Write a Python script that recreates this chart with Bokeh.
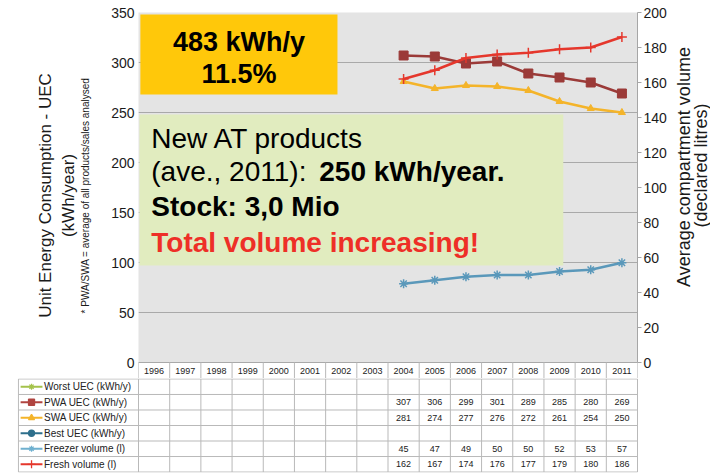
import math
from bokeh.plotting import figure
from bokeh.layouts import column, row
from bokeh.models import Range1d, LinearAxis, FixedTicker, BoxAnnotation, Label
from bokeh.core.properties import value
from bokeh.embed import file_html
from bokeh.resources import INLINE

# ---------------- data ----------------
years = ["1996", "1997", "1998", "1999", "2000", "2001", "2002", "2003",
         "2004", "2005", "2006", "2007", "2008", "2009", "2010", "2011"]
data_years = ["2004", "2005", "2006", "2007", "2008", "2009", "2010", "2011"]
worst_uec = []
pwa_uec = [307, 306, 299, 301, 289, 285, 280, 269]
swa_uec = [281, 274, 277, 276, 272, 261, 254, 250]
best_uec = []
freezer_volume = [45, 47, 49, 50, 50, 52, 53, 57]
fresh_volume = [162, 167, 174, 176, 177, 179, 180, 186]
series_labels = ["Worst UEC (kWh/y)", "PWA UEC (kWh/y)", "SWA UEC (kWh/y)",
                 "Best UEC (kWh/y)", "Freezer volume (l)", "Fresh volume (l)"]
series_values = [worst_uec, pwa_uec, swa_uec, best_uec, freezer_volume, fresh_volume]
uec_ticks = [0, 50, 100, 150, 200, 250, 300, 350]
volume_ticks = [0, 20, 40, 60, 80, 100, 120, 140, 160, 180, 200]
right_title_lines = ["Average compartment  volume", "(declared litres)"]

# ---------------- style ----------------
FONT = "Liberation Sans"
NCAT = len(years)
FRAME_W = 499
LEFT1 = 138
RIGHT1 = 35
TOP1 = 12
PXU = FRAME_W / NCAT
UEC_MAX = uec_ticks[-1]
VOL_MAX = volume_ticks[-1]
RATIO = UEC_MAX / VOL_MAX
HEADER = 16
H1 = TOP1 + UEC_MAX + HEADER
WR = 38
W = LEFT1 + FRAME_W + RIGHT1 + WR
GRID = "#a9a9a9"
CELL = "#b9b9b9"
line_colors = ["#a4c24b", "#9b3a38", "#f4b42a", "#2e6f8c", "#5a98ba", "#e5372c"]
legend_colors = ["#a4c24b", "#b04440", "#f4b42a", "#2e6f8c", "#6fb0cf", "#e5372c"]
markers = ["asterisk", "square", "triangle", "circle", "asterisk", "cross"]

xs = [years.index(y) + 0.5 for y in data_years]

# ---------------- main chart ----------------
p = figure(frame_width=FRAME_W, frame_height=UEC_MAX + HEADER,
           x_range=Range1d(0, NCAT), y_range=Range1d(-HEADER, UEC_MAX),
           x_axis_location=None, output_backend="svg", toolbar_location=None,
           min_border_left=LEFT1, min_border_right=RIGHT1,
           min_border_top=TOP1, min_border_bottom=0)
p.extra_y_ranges = {"vol": Range1d(-HEADER / RATIO, VOL_MAX)}
p.background_fill_color = "#e4e4e4"
p.border_fill_color = "white"
p.outline_line_color = None
p.xgrid.visible = False
p.ygrid.ticker = FixedTicker(ticks=uec_ticks)
p.ygrid.grid_line_color = GRID
p.ygrid.grid_line_width = 1

# left axis (ticks + footnote)
ya = p.yaxis[0]
ya.ticker = FixedTicker(ticks=uec_ticks)
ya.bounds = (uec_ticks[0], uec_ticks[-1])
ya.axis_line_color = None
ya.major_tick_line_color = None
ya.minor_tick_line_color = None
ya.major_tick_out = 0
ya.major_label_standoff = 4
ya.major_label_text_font = FONT
ya.major_label_text_font_size = "14px"
ya.major_label_text_color = "#1a1a1a"
ya.axis_label = "* PWA/SWA = average of all products/sales analysed"
ya.axis_label_text_font = FONT
ya.axis_label_text_font_size = "10px"
ya.axis_label_text_font_style = "normal"
ya.axis_label_text_color = "#1a1a1a"
ya.axis_label_standoff = 17

# left title axis
lt = LinearAxis(ticker=FixedTicker(ticks=[]), bounds=(uec_ticks[0], uec_ticks[-1]),
                axis_line_color=None, major_tick_line_color=None,
                minor_tick_line_color=None, major_tick_out=0, major_label_standoff=0,
                axis_label="Unit Energy Consumption - UEC\n(kWh/year)",
                axis_label_text_font=FONT, axis_label_text_font_size="17px",
                axis_label_text_font_style="normal", axis_label_text_color="#1a1a1a",
                axis_label_standoff=0)
p.add_layout(lt, "left")

# right axis (ticks)
ra = LinearAxis(y_range_name="vol", ticker=FixedTicker(ticks=volume_ticks),
                bounds=(volume_ticks[0], volume_ticks[-1]),
                axis_line_color="#a6a6a6", major_tick_line_color="#a6a6a6",
                minor_tick_line_color=None, major_tick_out=4, major_tick_in=0,
                major_label_standoff=2, major_label_text_font=FONT,
                major_label_text_font_size="14px", major_label_text_color="#1a1a1a")
p.add_layout(ra, "right")

# header row (years)
p.quad(left=0, right=NCAT, bottom=-HEADER, top=0, fill_color="white", line_color=None)
p.segment(x0=[0], y0=[0], x1=[NCAT], y1=[0], line_color=GRID, line_width=1)
cell_x = list(range(NCAT + 1))
p.segment(x0=cell_x, y0=[-HEADER] * len(cell_x), x1=cell_x, y1=[0] * len(cell_x),
          line_color=CELL, line_width=1)
p.text(x=[i + 0.5 for i in range(NCAT)], y=[-HEADER / 2] * NCAT, text=years,
       text_font=value(FONT), text_font_size=value("9px"), text_color="#222222",
       text_align=value("center"), text_baseline=value("middle"))

# series lines
p.line(xs, pwa_uec, line_color=line_colors[1], line_width=2.5)
p.scatter(xs, pwa_uec, marker="square", size=9, fill_color=line_colors[1],
          line_color=line_colors[1])
p.line(xs, swa_uec, line_color=line_colors[2], line_width=2.5)
p.scatter(xs, swa_uec, marker="triangle", size=7, fill_color=line_colors[2],
          line_color=line_colors[2])
p.line(xs, freezer_volume, line_color=line_colors[4], line_width=2.5, y_range_name="vol")
p.scatter(xs, freezer_volume, marker="asterisk", size=9, line_color=line_colors[4],
          line_width=1.5, y_range_name="vol")
p.line(xs, fresh_volume, line_color=line_colors[5], line_width=2.5, y_range_name="vol")
p.scatter(xs, fresh_volume, marker="cross", size=10, line_color=line_colors[5],
          line_width=1.5, y_range_name="vol")

# annotation boxes
p.add_layout(BoxAnnotation(left=0.06, right=6.38, top=348, bottom=268,
                           fill_color="#ffc80a", fill_alpha=1, line_color=None))
p.add_layout(BoxAnnotation(left=0.03, right=13.62, top=248, bottom=97,
                           fill_color="#e1ecbf", fill_alpha=1, line_color=None))

def lab(x, y, text, size, style="normal", color="black", align="left", x_offset=0):
    p.add_layout(Label(x=x, y=y, text=text, text_font=FONT, text_font_size=size,
                       text_font_style=style, text_color=color, text_align=align,
                       text_baseline="middle", x_offset=x_offset))

lab(3.22, 321, "483 kWh/y", "27px", "bold", align="center")
lab(3.22, 289, "11.5%", "27px", "bold", align="center")
lab(0.41, 224, "New AT products", "28px")
lab(0.41, 191, "(ave., 2011): ", "28px")
lab(0.41, 191, "250 kWh/year.", "28px", "bold", x_offset=168)
lab(0.41, 156, "Stock: 3,0 Mio", "28px", "bold")
lab(0.41, 120, "Total volume increasing!", "28px", "bold", color="#ee2f27")

# ---------------- right title strip ----------------
pr = figure(width=WR, height=H1, x_range=Range1d(0, WR), y_range=Range1d(0, H1),
            x_axis_location=None, y_axis_location=None, output_backend="svg",
            toolbar_location=None, min_border_left=0, min_border_right=0,
            min_border_top=0, min_border_bottom=0)
pr.outline_line_color = None
pr.background_fill_color = "white"
pr.border_fill_color = "white"
pr.grid.visible = False
pr.text(x=[11, 28], y=[H1 - 164, H1 - 165], text=right_title_lines, angle=math.pi / 2,
        text_font=value(FONT), text_font_size=value("18px"), text_color="#1a1a1a",
        text_align=value("center"), text_baseline=value("middle"))

# ---------------- data table ----------------
ROWS = len(series_labels)
LB2 = 17
x_start = -(LEFT1 - LB2) / PXU
x_end = NCAT + 1 / PXU
frame2_w = round((x_end - x_start) * PXU)
RB2 = W - LB2 - frame2_w
t = figure(frame_width=frame2_w, frame_height=94, x_range=Range1d(x_start, x_end),
           y_range=Range1d(-0.03, ROWS + 0.03), x_axis_location=None,
           y_axis_location=None, output_backend="svg", toolbar_location=None,
           min_border_left=LB2, min_border_right=RB2, min_border_top=0,
           min_border_bottom=1)
t.background_fill_color = "white"
t.border_fill_color = "white"
t.outline_line_color = None
t.grid.visible = False

for fig in (p, pr, t):
    try:
        fig.frame_align = False
    except Exception:
        pass

row_y = list(range(ROWS + 1))
t.segment(x0=[x_start + 0.03] * len(row_y), y0=row_y, x1=[NCAT] * len(row_y), y1=row_y,
          line_color=CELL, line_width=1)
vx = [x_start + 0.03] + list(range(NCAT + 1))
t.segment(x0=vx, y0=[0] * len(vx), x1=vx, y1=[ROWS] * len(vx),
          line_color=CELL, line_width=1)

centers = [ROWS - r - 0.5 for r in range(ROWS)]
t.segment(x0=[x_start + 0.1] * ROWS, y0=centers, x1=[x_start + 0.8] * ROWS, y1=centers,
          line_color=legend_colors, line_width=2)
for r in range(ROWS):
    t.scatter([x_start + 0.45], [centers[r]], marker=markers[r],
              size=6 if markers[r] != "cross" else 8,
              fill_color=legend_colors[r], line_color=legend_colors[r], line_width=1.3)
t.text(x=[x_start + 0.85] * ROWS, y=centers, text=series_labels,
       text_font=value(FONT), text_font_size=value("10px"), text_color="#222222",
       text_align=value("left"), text_baseline=value("middle"))
for r, vals in enumerate(series_values):
    if vals:
        t.text(x=xs[:len(vals)], y=[centers[r]] * len(vals), text=[str(v) for v in vals],
               text_font=value(FONT), text_font_size=value("9px"), text_color="#222222",
               text_align=value("center"), text_baseline=value("middle"))

layout = column(row(p, pr, spacing=0), t, spacing=0)
open("out.html", "w").write(file_html(layout, INLINE))
